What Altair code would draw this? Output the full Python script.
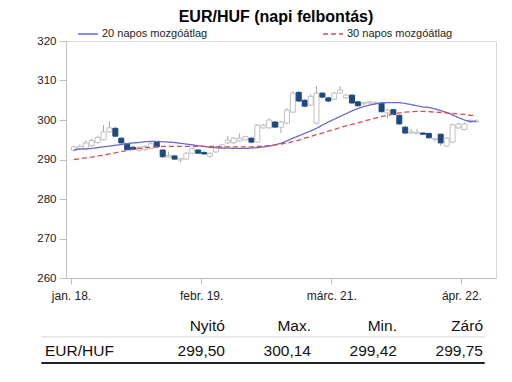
import altair as alt
import pandas as pd

# ---- candle data ----
opens = [292.3, 292.8, 292.6, 293.5, 294.3, 295.0, 297.0, 297.9, 295.4, 294.0,
         293.1, 292.3, 292.5, 292.8, 294.4, 292.4, 290.6, 290.9, 289.9, 290.1,
         291.6, 292.4, 291.8, 290.8, 291.9, 292.9, 294.2, 294.2, 294.7, 295.0,
         295.4, 294.4, 298.0, 298.0, 299.5, 298.2, 299.2, 302.0, 307.0, 305.0,
         303.8, 299.2, 306.8, 305.6, 305.3, 306.8, 305.6, 306.3, 304.6, 304.1,
         304.3, 304.2, 304.3, 301.8, 302.6, 301.2, 298.2, 296.7, 296.6, 296.7,
         296.6, 295.0, 296.4, 293.4, 294.4, 298.0, 297.6, 299.5, 299.50]
closes = [293.2, 293.3, 294.2, 294.8, 295.6, 297.0, 298.0, 295.9, 294.2, 292.5,
          292.6, 293.0, 293.3, 294.0, 293.2, 290.7, 291.0, 290.1, 290.2, 291.6,
          292.8, 291.6, 291.4, 291.6, 293.2, 293.7, 294.9, 295.4, 295.4, 295.8,
          294.4, 298.7, 298.7, 300.0, 298.2, 299.5, 302.5, 306.8, 304.8, 303.5,
          306.0, 306.8, 305.8, 304.8, 306.8, 307.6, 306.3, 304.3, 303.6, 304.4,
          304.6, 304.5, 302.1, 302.5, 301.4, 299.0, 296.7, 297.0, 296.9, 296.4,
          295.5, 295.3, 294.2, 295.4, 298.8, 299.0, 299.0, 299.9, 299.75]
highs = [293.6, 293.8, 294.8, 295.3, 296.0, 298.7, 299.7, 298.2, 295.6, 294.2,
         293.4, 293.4, 293.6, 294.6, 294.6, 292.6, 292.0, 291.1, 290.4, 291.8,
         293.0, 292.6, 292.0, 291.8, 293.4, 294.0, 295.9, 295.7, 296.6, 296.0,
         295.6, 299.0, 299.0, 300.4, 299.8, 299.8, 303.0, 307.3, 307.4, 305.3,
         306.5, 308.6, 307.1, 305.9, 307.1, 308.5, 306.6, 306.5, 304.8, 304.6,
         304.8, 304.7, 304.5, 302.8, 302.8, 301.4, 298.4, 297.8, 297.8, 296.9,
         296.8, 295.5, 296.6, 295.7, 299.1, 299.3, 299.4, 300.2, 300.14]
lows = [292.0, 292.4, 292.3, 293.2, 294.0, 294.8, 296.8, 295.7, 294.0, 292.3,
        292.3, 292.0, 292.2, 292.6, 293.0, 290.4, 290.4, 289.9, 289.3, 289.9,
        291.4, 291.4, 291.2, 290.5, 291.7, 292.7, 293.9, 294.0, 294.5, 294.8,
        294.1, 294.2, 297.8, 297.8, 297.9, 296.7, 298.9, 301.8, 304.5, 303.2,
        303.5, 298.9, 305.5, 304.5, 305.0, 306.6, 305.3, 304.0, 303.4, 303.8,
        304.0, 303.9, 301.9, 300.5, 301.2, 298.8, 296.5, 296.5, 296.4, 296.2,
        295.3, 294.6, 293.4, 293.2, 294.2, 297.8, 297.4, 299.3, 299.42]

ma20 = [292.5, 292.6, 292.7, 292.8, 293.0, 293.2, 293.4, 293.6, 293.8, 294.0,
        294.2, 294.3, 294.5, 294.6, 294.6, 294.5, 294.4, 294.3, 294.1, 293.9,
        293.7, 293.5, 293.3, 293.1, 293.0, 292.9, 292.9, 292.8, 292.8, 292.8,
        292.9, 293.0, 293.2, 293.4, 293.7, 294.1, 294.7, 295.4, 296.0, 296.6,
        297.2, 297.9, 298.7, 299.5, 300.2, 300.9, 301.6, 302.3, 302.9, 303.4,
        303.8, 304.1, 304.3, 304.4, 304.4, 304.4, 304.2, 303.9, 303.6, 303.3,
        303.2, 302.8, 302.4, 301.9, 301.3, 300.6, 300.0, 299.6, 299.7]
ma30 = [290.0, 290.2, 290.4, 290.6, 290.9, 291.1, 291.4, 291.7, 292.0, 292.3,
        292.6, 292.8, 293.0, 293.1, 293.2, 293.3, 293.3, 293.3, 293.3, 293.3,
        293.3, 293.3, 293.3, 293.3, 293.3, 293.2, 293.2, 293.2, 293.2, 293.2,
        293.2, 293.3, 293.4, 293.5, 293.7, 293.9, 294.2, 294.5, 294.9, 295.4,
        295.8, 296.3, 296.7, 297.2, 297.6, 298.1, 298.5, 298.9, 299.3, 299.7,
        300.1, 300.5, 300.9, 301.2, 301.5, 301.8, 302.0, 302.1, 302.2, 302.2,
        302.1, 302.0, 301.9, 301.8, 301.7, 301.5, 301.4, 301.2, 301.1]

series_names = ["20 napos mozgóátlag", "30 napos mozgóátlag"]
series_colors = ["#6A6AD0", "#E04A4A"]

tick_labels = ["jan. 18.", "febr. 19.", "márc. 21.", "ápr. 22."]
tick_values = [-0.5, 21.5, 43.5, 65.5]
x_domain = [-0.5, 70.5]
y_ticks = [260, 270, 280, 290, 300, 310, 320]

table_header = ["", "Nyitó", "Max.", "Min.", "Záró"]
table_row = ["EUR/HUF", "299,50", "300,14", "299,42", "299,75"]

FONT = "Liberation Sans"

idx = list(range(len(opens)))
candles = pd.DataFrame({"i": idx, "open": opens, "high": highs,
                        "low": lows, "close": closes})
ma = pd.DataFrame({
    "i": idx + idx,
    "v": ma20 + ma30,
    "s": [series_names[0]] * len(ma20) + [series_names[1]] * len(ma30),
})

xs = alt.Scale(domain=x_domain, nice=False, zero=False)
ys = alt.Scale(domain=[260, 320], nice=False, zero=False)

label_js = "[" + ",".join("'%s'" % t for t in tick_labels) + "]"

x_axis = alt.Axis(values=tick_values, labelExpr=label_js + "[round((datum.value+0.5)/22)]",
                  title=None, grid=False, domainColor="#BFBFBF", tickColor="#BFBFBF",
                  tickSize=6, labelPadding=6, labelFontSize=12, labelColor="#222",
                  labelFont=FONT, labelOverlap=False)
y_axis = alt.Axis(values=y_ticks, tickCount=7, title=None, grid=False, domainColor="#BFBFBF",
                  tickColor="#BFBFBF", tickSize=7, labelPadding=3, labelFontSize=11.5,
                  labelColor="#222", labelFont=FONT, labelOverlap=False)

base = alt.Chart(candles)
up = "datum.close >= datum.open"
wick = base.mark_rule(color="#A6A6A6", strokeWidth=1).encode(
    x=alt.X("i:Q", scale=xs, axis=x_axis),
    y=alt.Y("low:Q", scale=ys, axis=y_axis),
    y2="high:Q",
)
body = base.mark_bar(size=5, strokeWidth=1).encode(
    x=alt.X("i:Q", scale=xs, axis=x_axis),
    y=alt.Y("open:Q", scale=ys, axis=y_axis),
    y2="close:Q",
    fill=alt.condition(up, alt.value("white"), alt.value("#1F497D")),
    stroke=alt.condition(up, alt.value("#C0C0C0"), alt.value("#1F497D")),
)

leg = alt.Legend(orient="none", legendX=11, legendY=-18, direction="horizontal",
                 title=None, symbolType="stroke", symbolSize=400, symbolStrokeWidth=1.5,
                 labelFontSize=11, labelFont=FONT, labelColor="#222", labelOffset=3,
                 columnPadding=112)
lines = alt.Chart(ma).mark_line(strokeWidth=1.3).encode(
    x=alt.X("i:Q", scale=xs, axis=x_axis),
    y=alt.Y("v:Q", scale=ys, axis=y_axis),
    color=alt.Color("s:N", scale=alt.Scale(domain=series_names, range=series_colors), legend=leg),
    strokeDash=alt.StrokeDash("s:N", scale=alt.Scale(domain=series_names, range=[[1, 0], [5, 3]]), legend=leg),
)

plot = alt.layer(wick, body, lines)

# ---- table under the chart ----
tab = pd.DataFrame({
    "col": [0, 1, 2, 3, 4] * 2,
    "row": [0] * 5 + [1] * 5,
    "text": table_header + table_row,
})
tx = alt.Scale(domain=[0, 1, 4], range=[-21, 159, 417], nice=False, zero=False)
ty = alt.Scale(domain=[0, 1], range=[290, 315], nice=False, zero=False)
rule_rows = [0.23, 1.28]
rules = pd.DataFrame({"x0": [-0.02, -0.02], "x1": [4.02, 4.02], "row": rule_rows, "k": [0, 1]})

t_left = alt.Chart(tab).transform_filter("datum.col == 0").mark_text(
    align="left", baseline="alphabetic", fontSize=15.5, font=FONT, color="#111"
).encode(x=alt.X("col:Q", scale=tx, axis=None), y=alt.Y("row:Q", scale=ty, axis=None), text="text:N")
t_right = alt.Chart(tab).transform_filter("datum.col > 0").mark_text(
    align="right", baseline="alphabetic", fontSize=15.5, font=FONT, color="#111"
).encode(x=alt.X("col:Q", scale=tx, axis=None), y=alt.Y("row:Q", scale=ty, axis=None), text="text:N")
r_grey = alt.Chart(rules).transform_filter("datum.k == 0").mark_rule(color="#E6E6E6", strokeWidth=1.5).encode(
    x=alt.X("x0:Q", scale=tx, axis=None), x2="x1:Q", y=alt.Y("row:Q", scale=ty, axis=None))
r_black = alt.Chart(rules).transform_filter("datum.k == 1").mark_rule(color="#222", strokeWidth=2).encode(
    x=alt.X("x0:Q", scale=tx, axis=None), x2="x1:Q", y=alt.Y("row:Q", scale=ty, axis=None))

table = alt.layer(r_grey, r_black, t_left, t_right)

chart = alt.layer(plot, table).resolve_scale(x="independent", y="independent").properties(
    width=430, height=237,
    autosize=alt.AutoSizeParams(type="none"),
    padding={"left": 58, "top": 33, "right": 8, "bottom": 96},
    title=alt.TitleParams("EUR/HUF (napi felbontás)", fontSize=16, fontWeight="bold",
                          font=FONT, anchor="middle", frame="group", color="#000", offset=-2, dx=-5),
).configure_view(stroke="#D9D9D9")

chart.save("out.html", embed_options={"renderer": "svg", "actions": False})
